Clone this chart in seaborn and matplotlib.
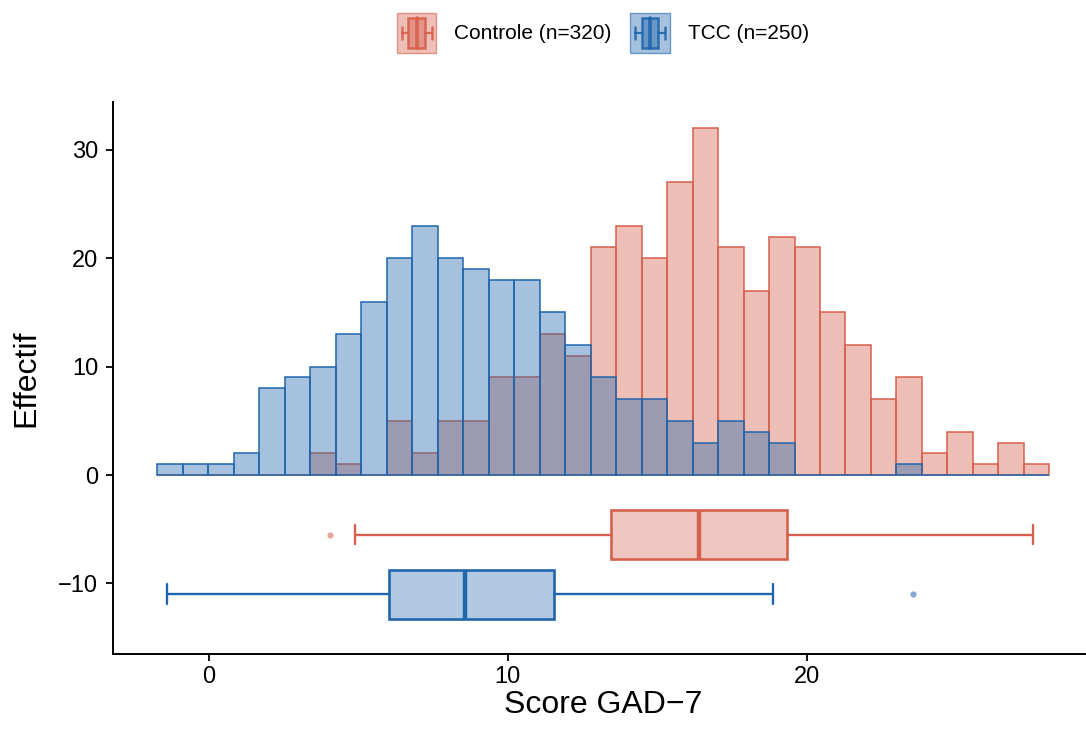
import numpy as np
import pandas as pd
import matplotlib
matplotlib.use("Agg")
import matplotlib.pyplot as plt
import seaborn as sns
from matplotlib.legend_handler import HandlerBase
from matplotlib.patches import Rectangle
from matplotlib.lines import Line2D
from matplotlib.colors import to_rgba

# ---------------- data ----------------
groups = ["Controle", "TCC"]
group_n = [320, 250]
bin_start = -1.72          # left edge of first bin (score units)
bin_width = 0.8525         # bin width (score units)
n_bins = 35

counts_controle = [0, 0, 0, 0, 0, 0, 2, 1, 0, 5, 2, 5, 5, 9, 9, 13, 11, 21, 23, 20,
                   27, 32, 21, 17, 22, 21, 15, 12, 7, 9, 2, 4, 1, 3, 1]
counts_tcc = [1, 1, 1, 2, 8, 9, 10, 13, 16, 20, 23, 20, 19, 18, 18, 15, 12, 9, 7, 7,
              5, 3, 5, 4, 3, 0, 0, 0, 0, 1, 0, 0, 0, 0, 0]

# boxplot summaries: whislo, q1, med, q3, whishi, outliers
box_controle = dict(whislo=4.89, q1=13.45, med=16.40, q3=19.34, whishi=27.56, fliers=[4.06])
box_tcc = dict(whislo=-1.40, q1=6.04, med=8.56, q3=11.55, whishi=18.88, fliers=[23.57])
box_ypos = [-5.5, -11.0]

x_ticks = [0, 10, 20]
y_ticks = [-10, 0, 10, 20, 30]
x_label = "Score GAD\u22127"
y_label = "Effectif"

RED = "#D6604D"
BLUE = "#2166AC"
colors = [RED, BLUE]

# ---------------- style ----------------
sns.set_style("ticks")
plt.rcParams["font.family"] = ["Liberation Sans", "DejaVu Sans"]
plt.rcParams["axes.unicode_minus"] = True
plt.rcParams["text.color"] = "black"
plt.rcParams["axes.labelcolor"] = "black"

fig = plt.figure(figsize=(10.86, 7.29), dpi=100)
# the plotting panel runs slightly past the right edge of the image (clipped)
ax = fig.add_axes([0.1038, 0.1029, 0.9036, 0.7572])

edges = (bin_start + bin_width * np.arange(n_bins + 1)).tolist()
centers = [(a + b) / 2 for a, b in zip(edges[:-1], edges[1:])]

df = pd.DataFrame({
    "score": centers + centers,
    "count": counts_controle + counts_tcc,
    "group": [groups[0]] * n_bins + [groups[1]] * n_bins,
})

for g, c in zip(groups, colors):
    sub = df[df["group"] == g]
    sns.histplot(data=sub, x="score", weights="count", bins=edges, ax=ax,
                 color=c, alpha=0.4, edgecolor=c, linewidth=1.1)

# ---------------- boxplots ----------------
for stats, ypos, c in zip([box_controle, box_tcc], box_ypos, colors):
    s = dict(stats)
    s["label"] = ""
    ax.bxp([s], positions=[ypos], widths=4.5, orientation="horizontal",
           patch_artist=True, manage_ticks=False, capwidths=1.8,
           boxprops=dict(facecolor=to_rgba(c, 0.35), edgecolor=c, linewidth=1.9),
           medianprops=dict(color=c, linewidth=3.2),
           whiskerprops=dict(color=c, linewidth=1.7),
           capprops=dict(color=c, linewidth=1.7),
           flierprops=dict(marker="o", markersize=4.5, markerfacecolor=to_rgba(c, 0.55),
                           markeredgecolor="none"))

# ---------------- axes ----------------
ax.set_xlim(-3.21, 29.61)
ax.set_ylim(-16.52, 34.43)
ax.set_xticks(x_ticks)
ax.set_yticks(y_ticks)
ax.set_xlabel(x_label, fontsize=23, labelpad=2, color="black")
ax.set_ylabel(y_label, fontsize=23, labelpad=12, color="black")
ax.tick_params(axis="both", labelsize=17, length=5.2, width=1.3, color="black",
               labelcolor="black")
ax.tick_params(axis="x", pad=3.2)
ax.tick_params(axis="y", pad=5.2)
for side in ["top", "right"]:
    ax.spines[side].set_visible(False)
for side in ["left", "bottom"]:
    ax.spines[side].set_linewidth(1.4)
    ax.spines[side].set_color("black")


# ---------------- legend with boxplot glyphs ----------------
class BoxGlyph:
    def __init__(self, color):
        self.color = color


class BoxHandler(HandlerBase):
    def create_artists(self, legend, orig_handle, xdescent, ydescent, width, height,
                       fontsize, trans):
        c = orig_handle.color
        x0, y0 = -xdescent, -ydescent
        w, h = width, height
        arts = []
        arts.append(Rectangle((x0, y0), w, h, facecolor=to_rgba(c, 0.4),
                              edgecolor=to_rgba(c, 0.6), linewidth=1.0, transform=trans))
        arts.append(Rectangle((x0 + 0.29 * w, y0 + 0.13 * h), 0.42 * w, 0.74 * h,
                              facecolor=to_rgba(c, 0.45), edgecolor=to_rgba(c, 0.9),
                              linewidth=1.8, transform=trans))
        arts.append(Line2D([x0 + 0.5 * w] * 2, [y0 + 0.13 * h, y0 + 0.87 * h],
                           color=to_rgba(c, 0.9), linewidth=2.6, transform=trans))
        for a, b in [(0.12, 0.29), (0.71, 0.88)]:
            arts.append(Line2D([x0 + a * w, x0 + b * w], [y0 + 0.5 * h] * 2,
                               color=to_rgba(c, 0.9), linewidth=1.6, transform=trans))
        for xc in [0.12, 0.88]:
            arts.append(Line2D([x0 + xc * w] * 2, [y0 + 0.36 * h, y0 + 0.64 * h],
                               color=to_rgba(c, 0.9), linewidth=1.8, transform=trans))
        return arts


handles = [BoxGlyph(c) for c in colors]
labels = [f"{g} (n={n})" for g, n in zip(groups, group_n)]
fig.legend(handles, labels, handler_map={BoxGlyph: BoxHandler()},
           loc="center", bbox_to_anchor=(0.555, 0.9547), ncol=2, frameon=False,
           fontsize=15, handlelength=1.9, handleheight=2.6, handletextpad=0.85,
           columnspacing=0.9)

fig.savefig("out.png", dpi=100)
